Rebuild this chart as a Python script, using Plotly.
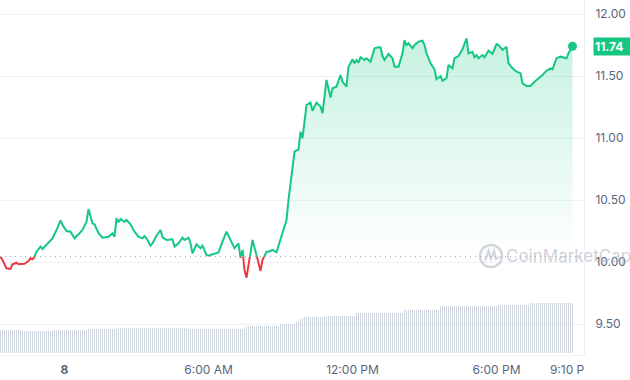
import pandas as pd
import plotly.graph_objects as go

# ---------------- data ----------------
DAY = pd.Timestamp("2024-03-08")          # midnight of day "8"
OPEN_PRICE = 10.043                        # opening price (dotted baseline)
LAST_PRICE = 11.74

# minutes relative to midnight of day 8
minutes = [
    -160, -155, -145, -135, -130, -120, -115, -105, -100, -90, -85, -80, -75, -70,
    -60, -55, -45, -30, -20, -10, -5, 5, 15, 25, 35, 45, 55, 60, 70, 75, 85, 95,
    110, 120, 125, 130, 135, 140, 150, 155, 165, 175, 185, 195, 200, 205, 215, 220,
    230, 240, 245, 255, 270, 275, 285, 295, 300, 310, 315, 320, 330, 340, 345, 355,
    360, 370, 385, 395, 405, 415, 425, 435, 440, 445, 450, 455, 460, 470, 480, 485,
    490, 495, 505, 510, 520, 530, 540, 545, 555, 560, 570, 575, 585, 590, 595, 605,
    615, 620, 630, 640, 645, 655, 665, 670, 680, 690, 695, 705, 710, 720, 725, 730,
    735, 740, 750, 755, 765, 775, 785, 790, 795, 800, 810, 820, 825, 835, 845, 850,
    855, 860, 870, 875, 885, 895, 900, 905, 915, 925, 930, 940, 945, 955, 960, 970,
    975, 985, 995, 1005, 1010, 1020, 1025, 1030, 1035, 1045, 1050, 1060, 1070, 1080,
    1085, 1095, 1105, 1110, 1120, 1130, 1140, 1145, 1155, 1165, 1175, 1180, 1190,
    1195, 1205, 1215, 1220, 1230, 1240, 1245, 1255, 1260, 1270,
]
prices = [
    10.043, 10.016, 9.949, 9.944, 9.982, 9.994, 9.982, 9.984, 9.986, 10.008, 10.030,
    10.022, 10.043, 10.083, 10.124, 10.105, 10.137, 10.191, 10.258, 10.336, 10.299,
    10.250, 10.244, 10.191, 10.224, 10.258, 10.325, 10.427, 10.312, 10.304, 10.232,
    10.196, 10.204, 10.232, 10.204, 10.353, 10.320, 10.345, 10.325, 10.339, 10.304,
    10.244, 10.204, 10.191, 10.210, 10.191, 10.132, 10.151, 10.212, 10.258, 10.199,
    10.178, 10.183, 10.124, 10.151, 10.196, 10.178, 10.196, 10.151, 10.070, 10.143,
    10.111, 10.132, 10.057, 10.051, 10.062, 10.078, 10.164, 10.244, 10.178, 10.111,
    10.151, 10.035, 10.097, 9.936, 9.874, 9.962, 10.178, 10.057, 10.003, 9.928,
    10.016, 10.083, 10.083, 10.097, 10.078, 10.191, 10.244, 10.339, 10.500, 10.742,
    10.890, 10.909, 11.051, 10.998, 11.266, 11.285, 11.220, 11.285, 11.253, 11.199,
    11.468, 11.327, 11.401, 11.414, 11.508, 11.454, 11.414, 11.575, 11.635, 11.603,
    11.629, 11.607, 11.651, 11.629, 11.643, 11.615, 11.724, 11.732, 11.732, 11.661,
    11.629, 11.678, 11.643, 11.575, 11.575, 11.683, 11.790, 11.750, 11.764, 11.724,
    11.750, 11.777, 11.785, 11.750, 11.683, 11.603, 11.554, 11.474, 11.500, 11.462,
    11.482, 11.589, 11.562, 11.643, 11.661, 11.715, 11.804, 11.683, 11.696, 11.651,
    11.669, 11.643, 11.669, 11.651, 11.704, 11.678, 11.758, 11.750, 11.710, 11.736,
    11.603, 11.562, 11.535, 11.522, 11.441, 11.420, 11.420, 11.454, 11.468, 11.490,
    11.508, 11.543, 11.562, 11.554, 11.643, 11.656, 11.651, 11.643, 11.683, 11.740,
]

# 24h volume (USD millions), one bar every 5 minutes from -160 min
VOL_START_MIN = -160
volume = [
    23, 23, 23, 23, 23, 23, 23, 23, 23, 23, 23,
    22, 22, 22, 22, 22, 22, 22, 22, 22, 22, 22, 22, 22, 22, 22,
    23, 23, 23, 23, 23, 23, 23, 23, 23, 23, 23, 23, 23, 23, 23, 23, 23, 23,
    24, 24, 24, 24, 24, 24, 24, 24, 24, 24, 24, 24, 24, 24, 24,
    25, 25, 25, 25, 25, 25, 25, 25, 25, 25, 25, 25, 25, 25, 25, 25, 25, 25,
    25, 25, 25, 25, 25, 25, 25, 25, 25, 25, 25, 25, 25, 25, 25, 25, 25,
    24, 24, 24, 24, 24, 24, 24, 24, 24, 24, 24, 24, 24, 24, 24, 24, 24, 24, 24,
    24.5, 24.5, 24.5, 24.5, 24.5, 24.5, 24.5, 24.5, 24.5, 24.5,
    27.5, 27.5, 27.5, 27.5, 27.5, 27.5, 27.5, 27.5, 27.5, 27.5, 27.5, 27.5, 27.5,
    27.5, 27.5, 27.5, 27.5,
    28.7, 28.7, 28.7, 28.7, 28.7, 28.7, 28.7, 28.7,
    31, 32.5, 34, 35,
    35.7, 35.7, 35.7, 35.7, 35.7, 35.7, 35.7, 35.7, 35.7, 35.7,
    37.3, 37.3, 37.3, 37.3, 37.3, 37.3, 37.3, 37.3, 37.3, 37.3, 37.3, 37.3, 37.3,
    37.3, 37.3, 37.3,
    40.5, 40.5, 40.5, 40.5, 40.5, 40.5, 40.5, 40.5, 40.5, 40.5, 40.5, 40.5, 40.5,
    40.5, 40.5, 40.5, 40.5, 40.5, 40.5, 40.5, 40.5, 40.5, 40.5, 40.5,
    42.7, 42.7, 42.7, 42.7, 42.7, 42.7, 42.7, 42.7, 42.7, 42.7, 42.7, 42.7, 42.7,
    42.7, 42.7, 42.7, 42.7, 42.7,
    47, 47, 47, 47, 47, 47, 47, 47, 47, 47, 47, 47, 47, 47, 47, 47, 47, 47, 47, 47,
    47, 47, 47, 47, 47, 47, 47, 47, 47,
    48, 48, 48, 48, 48, 48, 48, 48, 48, 48, 48, 48, 48, 48, 48, 48,
    50.5, 50.5, 50.5, 50.5, 50.5, 50.5, 50.5, 50.5, 50.5, 50.5, 50.5, 50.5, 50.5,
    50.5, 50.5, 50.5, 50.5, 50.5, 50.5, 50.5, 50.5, 50.5,
]

y_tick_vals = [9.5, 10.0, 10.5, 11.0, 11.5, 12.0]
x_tick_minutes = [0, 360, 720, 1080, 1270]
x_tick_text = ["<b>8</b>", "6:00 AM", "12:00 PM", "6:00 PM", "9:10 PM"]

# ---------------- styling / geometry ----------------
GREEN = "#16c784"
RED = "#ea3943"
GRID = "#eff2f5"
LABEL = "#58667e"
FONT = "Inter"

W, H = 630, 380
M_R, M_B = 46, 25
PW, PH = W - M_R, H - M_B
Y_MAX = 12.1129
Y_MIN = 9.25
X_START_MIN, X_END_MIN = -161.25, 1298.75

times = [DAY + pd.Timedelta(minutes=m) for m in minutes]
vol_times = [DAY + pd.Timedelta(minutes=VOL_START_MIN + 5 * i) for i in range(len(volume))]
split = (OPEN_PRICE - Y_MIN) / (Y_MAX - Y_MIN)
x_range = [DAY + pd.Timedelta(minutes=X_START_MIN), DAY + pd.Timedelta(minutes=X_END_MIN)]

def px(xp):
    return xp / PW

def py(yp):
    return 1 - yp / PH

fig = go.Figure()

# price line, upper half (green, with fading fill) - clipped at the opening price
fig.add_trace(go.Scatter(
    x=times, y=prices, xaxis="x", yaxis="y3", mode="lines",
    line=dict(color=GREEN, width=2),
    fill="tozeroy",
    fillgradient=dict(
        type="vertical",
        colorscale=[[0, "rgba(22,199,132,0)"], [1, "rgba(22,199,132,0.27)"]],
        start=OPEN_PRICE, stop=12.0,
    ),
    showlegend=False,
))

# price line, lower half (red) - clipped at the opening price
fig.add_trace(go.Scatter(
    x=times, y=prices, xaxis="x", yaxis="y4", mode="lines",
    line=dict(color=RED, width=2), showlegend=False,
))

# volume bars
fig.add_trace(go.Bar(
    x=vol_times, y=volume, xaxis="x", yaxis="y2",
    marker=dict(color="#cfd5df", line=dict(width=0)),
    width=150000, hoverinfo="skip", showlegend=False,
))

# last price dot
fig.add_trace(go.Scatter(
    x=[times[-1]], y=[prices[-1]], xaxis="x", yaxis="y", mode="markers",
    marker=dict(color=GREEN, size=9), showlegend=False, cliponaxis=False,
))

fig.update_layout(
    width=W, height=H,
    margin=dict(l=0, r=M_R, t=0, b=M_B, pad=0),
    paper_bgcolor="white", plot_bgcolor="rgba(0,0,0,0)",
    font=dict(family=FONT, color=LABEL, size=12),
    bargap=0,
    xaxis=dict(
        domain=[0, 1], anchor="y",
        range=x_range,
        tickvals=[DAY + pd.Timedelta(minutes=m) for m in x_tick_minutes],
        ticktext=x_tick_text,
        showgrid=False, zeroline=False,
        showline=True, linecolor=GRID, linewidth=1,
        ticks="", ticklabelstandoff=4,
        tickfont=dict(family=FONT, size=12, color=LABEL),
    ),
    yaxis=dict(
        domain=[0, 1], anchor="x", side="right",
        range=[Y_MIN, Y_MAX],
        tickvals=y_tick_vals, tickformat=".2f",
        showgrid=True, gridcolor=GRID, gridwidth=1, zeroline=False,
        showline=True, linecolor=GRID, linewidth=1,
        ticks="", ticklabelstandoff=8,
        tickfont=dict(family=FONT, size=12, color=LABEL),
    ),
    yaxis2=dict(overlaying="y", anchor="x", range=[-2, PH - 2], visible=False),
    yaxis3=dict(domain=[split, 1], anchor="x", range=[OPEN_PRICE, Y_MAX], visible=False),
    yaxis4=dict(domain=[0, split], anchor="x", range=[Y_MIN, OPEN_PRICE], visible=False),
    shapes=[
        dict(type="line", xref="paper", yref="paper", x0=0, x1=1, y0=split, y1=split,
             line=dict(color="#9aa3b2", width=1, dash="1px,4px"), layer="between"),
        # watermark logo
        dict(type="circle", xref="paper", yref="paper",
             x0=px(480), x1=px(502), y0=py(267), y1=py(245),
             line=dict(color="rgba(175,181,192,0.55)", width=2.5)),
        dict(type="path", xref="paper", yref="paper",
             path=(f"M {px(485)},{py(261)} L {px(488.5)},{py(251)} L {px(491)},{py(259)} "
                   f"L {px(494)},{py(251)} L {px(496)},{py(259)} L {px(499)},{py(257)}"),
             line=dict(color="rgba(175,181,192,0.55)", width=2.2)),
        # the last x label is cut at the plot edge
        dict(type="rect", xref="paper", yref="paper", x0=px(PW + 0.5), x1=1.2,
             y0=-0.1, y1=py(PH + 4), fillcolor="white", line=dict(width=0), layer="above"),
    ],
    annotations=[
        dict(text="CoinMarketCap", xref="paper", yref="paper", x=px(504), y=py(256),
             xanchor="left", yanchor="middle", showarrow=False,
             font=dict(family=FONT, size=17, color="rgba(165,172,184,0.55)")),
        dict(text=f"<b>{LAST_PRICE:.2f}</b>", xref="paper", yref="y", x=px(593), y=LAST_PRICE,
             xanchor="left", yanchor="middle", showarrow=False,
             bgcolor=GREEN, borderpad=1, width=40, height=15, align="left",
             font=dict(family=FONT, size=12, color="white")),
    ],
)

fig.write_html("out.html")
